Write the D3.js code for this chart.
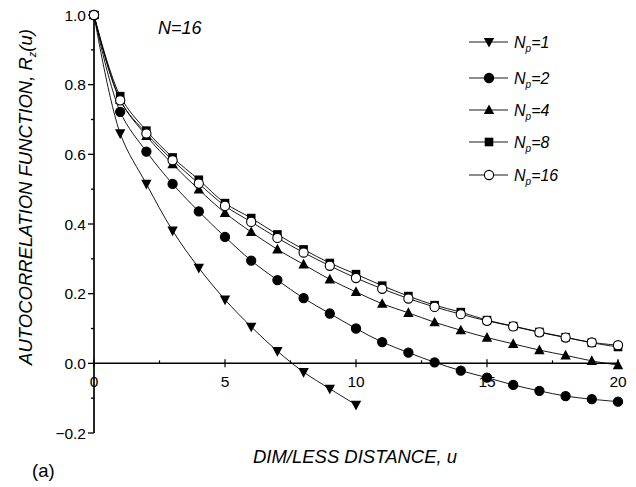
<!DOCTYPE html>
<html><head><meta charset="utf-8">
<script src="https://cdn.jsdelivr.net/npm/d3@7"></script>
<style>body{margin:0;background:#fff}svg{display:block}text{font-family:Arial,"Liberation Sans",sans-serif;fill:#000}</style>
</head><body><svg id="c" width="636" height="487"></svg>
<script>
const uValues = d3.range(0, 21);
const np1 = [1.0, 0.66, 0.515, 0.381, 0.274, 0.183, 0.105, 0.035, -0.025, -0.073, -0.119];
const np2 = [1.0, 0.722, 0.608, 0.515, 0.436, 0.363, 0.295, 0.239, 0.187, 0.143, 0.100, 0.061, 0.031, 0.003, -0.021, -0.041, -0.062, -0.079, -0.094, -0.103, -0.110];
const np4 = [1.0, 0.757, 0.653, 0.572, 0.499, 0.432, 0.377, 0.327, 0.284, 0.241, 0.205, 0.171, 0.145, 0.118, 0.095, 0.074, 0.056, 0.038, 0.023, 0.007, -0.005];
const np8 = [1.0, 0.767, 0.668, 0.591, 0.527, 0.460, 0.417, 0.370, 0.327, 0.288, 0.256, 0.223, 0.193, 0.167, 0.147, 0.124, 0.107, 0.090, 0.075, 0.059, 0.047];
const np16 = [1.0, 0.755, 0.660, 0.583, 0.516, 0.452, 0.406, 0.360, 0.318, 0.280, 0.245, 0.214, 0.186, 0.162, 0.141, 0.122, 0.106, 0.089, 0.074, 0.060, 0.052];
const seriesLabels = ["1", "2", "4", "8", "16"];
const xTicks = [0, 5, 10, 15, 20];
const yTicks = [-0.2, 0.0, 0.2, 0.4, 0.6, 0.8, 1.0];

const series = [
  {np: seriesLabels[0], vals: np1, sym: "down", fill: "#000"},
  {np: seriesLabels[1], vals: np2, sym: "circle", fill: "#000"},
  {np: seriesLabels[2], vals: np4, sym: "up", fill: "#000"},
  {np: seriesLabels[3], vals: np8, sym: "square", fill: "#000"},
  {np: seriesLabels[4], vals: np16, sym: "circle", fill: "#fff"}
];

const svg = d3.select("#c");
const x = d3.scaleLinear().domain([0, 20]).range([94, 618]);
const y = d3.scaleLinear().domain([-0.2, 1.0]).range([433, 15]);

// Y axis
const yAxis = svg.append("g").attr("transform", `translate(${x(0)},0)`);
yAxis.append("line").attr("y1", y(1.0)).attr("y2", y(-0.2)).attr("stroke", "#000").attr("stroke-width", 1.7);
d3.range(-0.2, 1.01, 0.1).forEach(v => {
  const major = Math.abs(Math.round(v * 10) % 2) === 0;
  yAxis.append("line").attr("x1", major ? -6 : -3).attr("x2", 0)
    .attr("y1", y(v)).attr("y2", y(v)).attr("stroke", "#000").attr("stroke-width", 1.3);
});
yTicks.forEach(v => {
  yAxis.append("text").attr("x", -8).attr("y", y(v) + 5.5).attr("text-anchor", "end")
    .attr("font-size", 15.5).text(d3.format(".1f")(v));
});

// X axis at y=0
const xAxis = svg.append("g").attr("transform", `translate(0,${y(0)})`);
xAxis.append("line").attr("x1", x(0)).attr("x2", x(20)).attr("stroke", "#000").attr("stroke-width", 1.5);
d3.range(0, 20.1, 2.5).forEach(v => {
  const major = v % 5 === 0;
  xAxis.append("line").attr("x1", x(v)).attr("x2", x(v)).attr("y1", major ? -4 : -3).attr("y2", major ? 4 : 0)
    .attr("stroke", "#000").attr("stroke-width", 1.2);
});
xTicks.forEach(v => {
  xAxis.append("text").attr("x", x(v)).attr("y", 24).attr("text-anchor", "middle")
    .attr("font-size", 15.5).text(v);
});

// Curves
const line = d3.line().x((d, i) => x(uValues[i])).y(d => y(d)).curve(d3.curveCatmullRom.alpha(0.5));
series.forEach(s => {
  svg.append("path").attr("d", line(s.vals)).attr("fill", "none").attr("stroke", "#000").attr("stroke-width", 0.9);
});

function drawSym(g, sym, cx, cy, fill) {
  const sz = 4.6;
  if (sym === "circle") {
    g.append("circle").attr("cx", cx).attr("cy", cy).attr("r", sz).attr("fill", fill).attr("stroke", "#000").attr("stroke-width", 1.1);
  } else if (sym === "square") {
    g.append("rect").attr("x", cx - sz + 0.3).attr("y", cy - sz + 0.3).attr("width", 2 * sz - 0.6).attr("height", 2 * sz - 0.6).attr("fill", fill);
  } else if (sym === "up") {
    g.append("path").attr("d", `M${cx},${cy - sz - 1}L${cx + sz + 0.6},${cy + sz - 0.5}L${cx - sz - 0.6},${cy + sz - 0.5}Z`).attr("fill", fill);
  } else {
    g.append("path").attr("d", `M${cx},${cy + sz + 1}L${cx + sz + 0.6},${cy - sz + 0.5}L${cx - sz - 0.6},${cy - sz + 0.5}Z`).attr("fill", fill);
  }
}
series.forEach(s => {
  const g = svg.append("g");
  s.vals.forEach((v, i) => drawSym(g, s.sym, x(uValues[i]), y(v), s.fill));
});

// Legend
const legY = [42, 78, 110, 142, 175];
series.forEach((s, i) => {
  const g = svg.append("g");
  g.append("line").attr("x1", 469).attr("x2", 508).attr("y1", legY[i]).attr("y2", legY[i]).attr("stroke", "#000").attr("stroke-width", 0.9);
  drawSym(g, s.sym, 489, legY[i], s.fill);
  const t = g.append("text").attr("x", 514).attr("y", legY[i] + 6).attr("font-size", 16).attr("font-style", "italic");
  t.append("tspan").text("N");
  t.append("tspan").attr("font-size", 10).attr("dy", 4).text("p");
  t.append("tspan").attr("dy", -4).text("=" + s.np);
});

// Annotations
svg.append("text").attr("x", 158).attr("y", 34).attr("font-size", 18).attr("font-style", "italic").text("N=16");
const yl = svg.append("text").attr("transform", "translate(32,197) rotate(-90)").attr("text-anchor", "middle")
  .attr("font-size", 18.5).attr("font-style", "italic");
yl.append("tspan").text("AUTOCORRELATION FUNCTION, R");
yl.append("tspan").attr("font-size", 11).attr("dy", 4).text("z");
yl.append("tspan").attr("dy", -4).text("(u)");
svg.append("text").attr("x", 355).attr("y", 463).attr("text-anchor", "middle").attr("font-size", 18.5)
  .attr("font-style", "italic").text("DIM/LESS DISTANCE, u");
svg.append("text").attr("x", 32).attr("y", 477).attr("font-size", 18.5).text("(a)");
</script></body></html>
